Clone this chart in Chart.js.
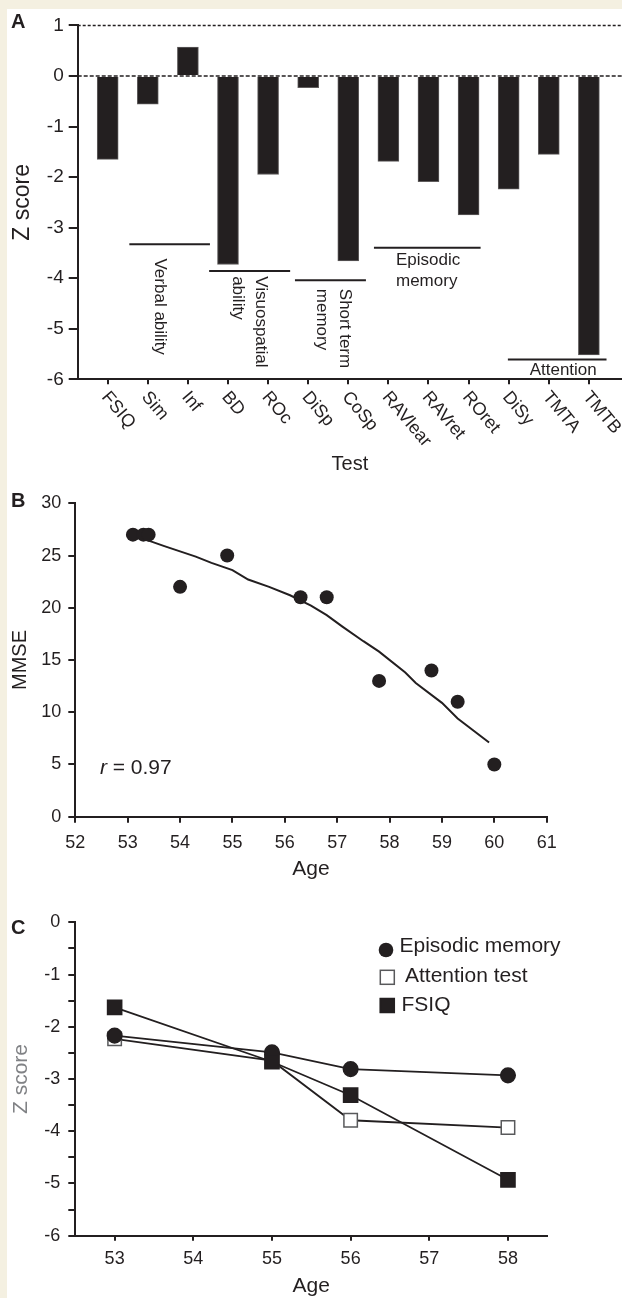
<!DOCTYPE html>
<html>
<head>
<meta charset="utf-8">
<title>Cognitive profile</title>
<script src="https://cdn.jsdelivr.net/npm/chart.js@4.4.1/dist/chart.umd.min.js"></script>
<style>
  html, body { margin: 0; padding: 0; }
  body {
    width: 622px; height: 1298px; position: relative; overflow: hidden;
    background: #f4f0e1;
    font-family: "Liberation Sans", Arial, sans-serif;
  }
  .sheet { position: absolute; left: 7px; top: 9px; width: 615px; height: 1289px; background: #fff; }
  canvas { position: absolute; left: 7px; }
  .tag { position: absolute; left: 11px; font: bold 20px/20px "Liberation Sans", Arial, sans-serif; color: #231f20; }
</style>
</head>
<body>
<div class="sheet"></div>
<canvas id="chartA" width="615" height="471" style="top:9px"></canvas>
<canvas id="chartB" width="615" height="400" style="top:480px"></canvas>
<canvas id="chartC" width="615" height="418" style="top:880px"></canvas>
<div class="tag" style="top:11px">A</div>
<div class="tag" style="top:490px">B</div>
<div class="tag" style="top:917px">C</div>

<script>
// ─── Data ─────────────────────────────────────────────────────
// Panel A: z score per test
const tests = ['FSIQ', 'Sim', 'Inf', 'BD', 'ROc', 'DiSp', 'CoSp', 'RAVlear', 'RAVret', 'ROret', 'DiSy', 'TMTA', 'TMTB'];
const testZ = [-1.65, -0.56, 0.57, -3.73, -1.95, -0.23, -3.66, -1.69, -2.09, -2.75, -2.24, -1.55, -5.52];

// Panel B: MMSE against age, with the fitted curve
const ages = [53.1, 53.3, 53.4, 54.0, 54.9, 56.3, 56.8, 57.8, 58.8, 59.3, 60.0];
const mmse = [27, 27, 27, 22, 25, 21, 21, 13, 14, 11, 5];
const fitAge = [53.36, 53.7, 54.0, 54.3, 54.6, 55.0, 55.3, 55.7, 56.1, 56.5, 56.8, 57.1, 57.5, 57.8, 58.3, 58.5, 59.0, 59.3, 59.9];
const fitMmse = [26.5, 25.9, 25.4, 24.9, 24.3, 23.6, 22.7, 22.0, 21.2, 20.2, 19.3, 18.2, 16.8, 15.8, 13.8, 12.8, 10.9, 9.4, 7.1];
const corrR = 0.97;

// Panel C: z scores at each visit
const visitAges = [53, 55, 56, 58];
const episodicZ = [-2.17, -2.49, -2.81, -2.93];
const attentionZ = [-2.23, -2.65, -3.79, -3.93];
const fsiqZ = [-1.63, -2.67, -3.31, -4.93];

// ─── Look ─────────────────────────────────────────────────────
const INK = '#231f20';
const FONT = '"Liberation Sans", Arial, sans-serif';
Chart.defaults.font.family = FONT;
Chart.defaults.color = INK;

function axis(tickLength) {
  return {
    grid: { drawOnChartArea: false, offset: false, color: INK, lineWidth: 2, tickLength },
    border: { color: INK, width: 2 }
  };
}

const baseOptions = {
  responsive: false,
  animation: false,
  devicePixelRatio: 1,
  plugins: { legend: { display: false }, tooltip: { enabled: false } }
};

// ─── Panel A annotations ──────────────────────────────────────
// reference lines and domain brackets, placed in data units
const refLines = [
  { value: 1, dash: [3, 2] },
  { value: 0, dash: [4, 2] }
];
const groups = [
  { lines: ['Verbal ability'], from: 0.54, to: 2.55, at: -3.33, tx: 1.30, ty: -3.61, vertical: true },
  { lines: ['Visuospatial', 'ability'], from: 2.53, to: 4.55, at: -3.86, tx: 3.52, ty: -3.96, vertical: true },
  { lines: ['Short term', 'memory'], from: 4.67, to: 6.44, at: -4.04, tx: 5.63, ty: -4.21, vertical: true },
  { lines: ['Episodic', 'memory'], from: 6.64, to: 9.30, at: -3.40, tx: 7.19, ty: -3.655, vertical: false, align: 'left' },
  { lines: ['Attention'], from: 9.98, to: 12.44, at: -5.61, tx: 11.36, ty: -5.82, vertical: false, align: 'center' }
];

const panelA = {
  id: 'panelA',
  afterDatasetsDraw(chart) {
    const { ctx, chartArea, scales: { x, y } } = chart;
    ctx.save();
    ctx.strokeStyle = INK;

    // dashed reference lines
    ctx.lineWidth = 1.5;
    refLines.forEach(r => {
      const py = y.getPixelForValue(r.value);
      ctx.setLineDash(r.dash);
      ctx.beginPath();
      ctx.moveTo(chartArea.left, py);
      ctx.lineTo(chartArea.right, py);
      ctx.stroke();
    });
    ctx.setLineDash([]);

    // brackets with their labels
    ctx.lineWidth = 2;
    ctx.fillStyle = INK;
    ctx.font = '17px ' + FONT;
    const lh = 22;
    groups.forEach(g => {
      const py = y.getPixelForValue(g.at);
      ctx.beginPath();
      ctx.moveTo(x.getPixelForValue(g.from), py);
      ctx.lineTo(x.getPixelForValue(g.to), py);
      ctx.stroke();

      const tx = x.getPixelForValue(g.tx);
      const ty = y.getPixelForValue(g.ty);
      if (g.vertical) {
        ctx.save();
        ctx.translate(tx, ty);
        ctx.rotate(Math.PI / 2);
        ctx.textAlign = 'left';
        ctx.textBaseline = 'middle';
        const n = g.lines.length;
        g.lines.forEach((s, i) => ctx.fillText(s, 0, -((n - 1) / 2 - i) * (lh + 1)));
        ctx.restore();
      } else {
        ctx.textAlign = g.align;
        ctx.textBaseline = 'middle';
        g.lines.forEach((s, i) => ctx.fillText(s, tx, ty + i * (lh - 1)));
      }
    });
    ctx.restore();
  },
  afterDraw(chart) {
    // slanted test names under the axis
    const { ctx, chartArea, scales: { x } } = chart;
    ctx.save();
    ctx.fillStyle = INK;
    ctx.font = '18px ' + FONT;
    ctx.textAlign = 'left';
    ctx.textBaseline = 'top';
    tests.forEach((t, i) => {
      ctx.save();
      ctx.translate(x.getPixelForValue(i) + 4, chartArea.bottom + 9);
      ctx.rotate(50 * Math.PI / 180);
      ctx.fillText(t, 0, 0);
      ctx.restore();
    });
    ctx.restore();
  }
};

new Chart(document.getElementById('chartA'), {
  type: 'bar',
  data: {
    datasets: [{
      data: tests.map((t, i) => ({ x: i, y: testZ[i] })),
      backgroundColor: INK,
      borderColor: '#5f5c5c',
      borderWidth: 1,
      barThickness: 21
    }]
  },
  options: {
    ...baseOptions,
    layout: { padding: { top: 10.3, right: 0, bottom: 0, left: 0 } },
    scales: {
      x: {
        ...axis(5),
        type: 'linear',
        offset: false,
        min: -0.748,
        max: 12.826,
        afterBuildTicks: s => { s.ticks = tests.map((t, i) => ({ value: i })); },
        afterFit: s => { s.height = 100.7; },
        ticks: { display: false },
        title: { display: true, text: 'Test', color: INK, font: { size: 20 }, padding: { top: 0, bottom: 4 } }
      },
      y: {
        ...axis(9),
        min: -6,
        max: 1,
        ticks: { color: INK, padding: 5, font: { size: 19 }, stepSize: 1 },
        afterFit: s => { s.width = 70.7; },
        title: { display: true, text: 'Z score', color: INK, font: { size: 23 }, padding: { top: 2, bottom: 0 } }
      }
    }
  },
  plugins: [panelA]
});

// ─── Panel B ──────────────────────────────────────────────────
const rNote = { x: 52.47, y: 4.6 };

const panelB = {
  id: 'panelB',
  afterDraw(chart) {
    const { ctx, scales: { x, y } } = chart;
    const px = x.getPixelForValue(rNote.x);
    const py = y.getPixelForValue(rNote.y);
    ctx.save();
    ctx.fillStyle = INK;
    ctx.textAlign = 'left';
    ctx.textBaseline = 'middle';
    ctx.font = 'italic 21px ' + FONT;
    ctx.fillText('r', px, py);
    const w = ctx.measureText('r').width;
    ctx.font = '21px ' + FONT;
    ctx.fillText(' = ' + corrR.toFixed(2), px + w, py);
    ctx.restore();
  }
};

new Chart(document.getElementById('chartB'), {
  type: 'scatter',
  data: {
    datasets: [
      {
        data: ages.map((a, i) => ({ x: a, y: mmse[i] })),
        pointRadius: 7,
        backgroundColor: INK,
        borderColor: INK,
        borderWidth: 0
      },
      {
        data: fitAge.map((a, i) => ({ x: a, y: fitMmse[i] })),
        showLine: true,
        pointRadius: 0,
        borderColor: INK,
        borderWidth: 2,
        tension: 0
      }
    ]
  },
  options: {
    ...baseOptions,
    layout: { padding: { top: 23.3, right: 75.3, bottom: 0, left: 0 } },
    scales: {
      x: {
        ...axis(6),
        type: 'linear',
        min: 52,
        max: 61,
        ticks: { color: INK, padding: 10, font: { size: 18 }, stepSize: 1 },
        afterFit: s => { s.height = 63.3; },
        title: { display: true, text: 'Age', color: INK, font: { size: 21, lineHeight: 1 }, padding: { top: 0, bottom: 0 } }
      },
      y: {
        ...axis(7),
        min: 0,
        max: 30,
        ticks: { color: INK, padding: 7, font: { size: 18 }, stepSize: 5 },
        afterFit: s => { s.width = 68.3; },
        title: { display: true, text: 'MMSE', color: INK, font: { size: 20 }, padding: { top: 1, bottom: 0 } }
      }
    }
  },
  plugins: [panelB]
});

// ─── Panel C ──────────────────────────────────────────────────
const legendRows = [
  { mx: 379, my: 70, tx: 392.5, ty: 66.5 },
  { mx: 380.3, my: 97.3, tx: 398, ty: 96 },
  { mx: 380.3, my: 125.5, tx: 394.5, ty: 125 }
];

const panelC = {
  id: 'panelC',
  afterDraw(chart) {
    const { ctx } = chart;
    ctx.save();
    ctx.font = '21px ' + FONT;
    ctx.textAlign = 'left';
    ctx.textBaseline = 'middle';
    chart.data.datasets.forEach((ds, i) => {
      const r = legendRows[i];
      ctx.fillStyle = ds.pointBackgroundColor;
      ctx.strokeStyle = ds.pointBorderColor;
      ctx.lineWidth = 1.5;
      if (ds.pointStyle === 'circle') {
        ctx.beginPath();
        ctx.arc(r.mx, r.my, 7.3, 0, Math.PI * 2);
        ctx.fill();
      } else {
        ctx.fillRect(r.mx - 7.5, r.my - 7.5, 15, 15);
        ctx.strokeRect(r.mx - 7, r.my - 7, 14, 14);
      }
      ctx.fillStyle = INK;
      ctx.fillText(ds.label, r.tx, r.ty);
    });
    ctx.restore();
  }
};

function visitSeries(label, values, style, radius, fill, stroke, order) {
  return {
    label,
    data: visitAges.map((a, i) => ({ x: a, y: values[i] })),
    borderColor: INK,
    borderWidth: 1.8,
    pointStyle: style,
    pointRadius: radius,
    pointBackgroundColor: fill,
    pointBorderColor: stroke,
    pointBorderWidth: 1.5,
    tension: 0,
    order
  };
}

new Chart(document.getElementById('chartC'), {
  type: 'line',
  data: {
    datasets: [
      visitSeries('Episodic memory', episodicZ, 'circle', 7.3, INK, INK, 2),
      visitSeries('Attention test', attentionZ, 'rect', 9.5, '#ffffff', '#58595b', 3),
      visitSeries('FSIQ', fsiqZ, 'rect', 10, INK, INK, 1)
    ]
  },
  options: {
    ...baseOptions,
    layout: { padding: { top: 42.3, right: 74.7, bottom: 0, left: 0 } },
    scales: {
      x: {
        ...axis(5),
        type: 'linear',
        min: 52.5,
        max: 58.5,
        afterBuildTicks: s => { s.ticks = [53, 54, 55, 56, 57, 58].map(v => ({ value: v })); },
        afterFit: s => { s.height = 62.3; },
        ticks: { color: INK, padding: 8, font: { size: 18 } },
        title: { display: true, text: 'Age', color: INK, font: { size: 21, lineHeight: 1 }, padding: { top: 0, bottom: 1 } }
      },
      y: {
        ...axis(7),
        min: -6,
        max: 0,
        ticks: {
          color: INK, padding: 8, font: { size: 18 }, stepSize: 0.5,
          callback: v => Number.isInteger(v) ? String(v) : ''
        },
        afterFit: s => { s.width = 68.3; },
        title: { display: true, text: 'Z score', color: '#808285', font: { size: 21 }, padding: { top: 2, bottom: 0 } }
      }
    }
  },
  plugins: [panelC]
});
</script>
</body>
</html>
